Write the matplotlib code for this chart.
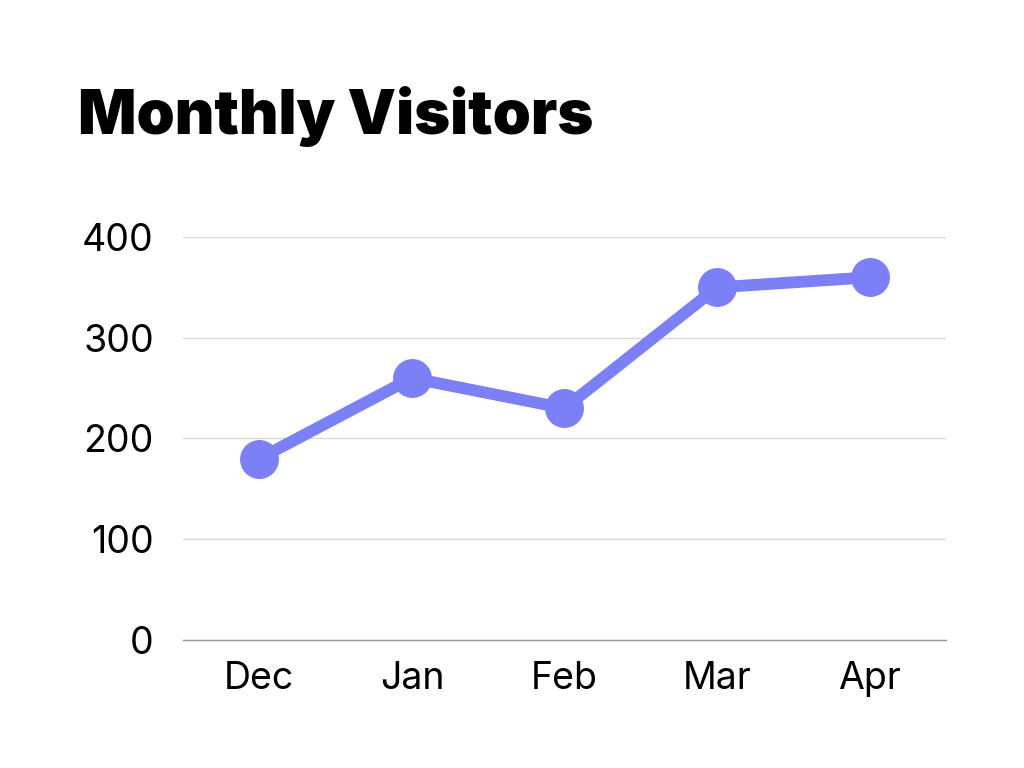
import matplotlib
matplotlib.use("Agg")
import matplotlib.pyplot as plt

# data
months = ["Dec", "Jan", "Feb", "Mar", "Apr"]
visitors = [180, 260, 230, 350, 360]
y_ticks = [0, 100, 200, 300, 400]

line_color = "#7b80f7"

fig = plt.figure(figsize=(10.24, 7.68), dpi=100)
ax = fig.add_axes([0.1787, 0.1667, 0.9238 - 0.1787, 0.6914 - 0.1667])

x = list(range(len(months)))
ax.plot(x, visitors, color=line_color, linewidth=8.5, marker="o",
        markersize=27, solid_capstyle="round", zorder=3)

ax.set_xlim(-0.5, len(months) - 0.5)
ax.set_ylim(0, 400)
ax.set_yticks(y_ticks)
ax.set_xticks(x)
ax.set_xticklabels(months)

for s in ["top", "right", "left"]:
    ax.spines[s].set_visible(False)
ax.spines["bottom"].set_color("#999999")
ax.spines["bottom"].set_linewidth(1.0)
ax.grid(axis="y", color="#d9d9d9", linewidth=1.0, zorder=0)
ax.set_axisbelow(True)
ax.tick_params(axis="both", length=0, labelsize=27, labelcolor="black")
ax.tick_params(axis="y", pad=21)
ax.tick_params(axis="x", pad=15)
for lab in ax.get_xticklabels() + ax.get_yticklabels():
    lab.set_family("Inter")
    lab.set_fontweight("normal")

fig.text(78 / 1024, 1 - 134 / 768, "Monthly Visitors", fontsize=44,
         fontweight="black", family="Inter", color="black", ha="left", va="baseline")

fig.savefig("out.png", dpi=100)
